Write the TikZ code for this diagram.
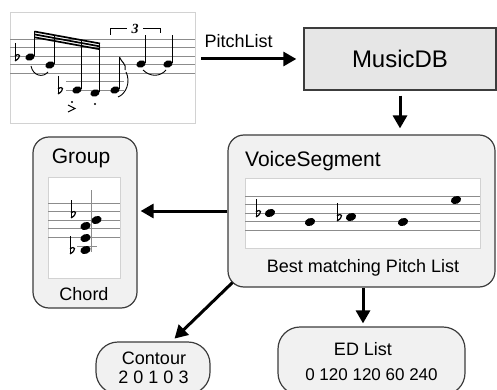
\documentclass[tikz,border=0pt]{standalone}
\usepackage{fontspec}
\setmainfont{Liberation Sans}
\newfontfamily\musicfont{Liberation Serif}
\usetikzlibrary{positioning, arrows.meta}
\definecolor{boxfill}{HTML}{F1F1F1}
\definecolor{dbfill}{HTML}{E6E6E6}
\definecolor{edgegray}{HTML}{3C3C3C}
\definecolor{stafflinegray}{HTML}{8C8C8C}
\definecolor{framegray}{HTML}{D2D2D2}
\tikzset{dbbox/.style={draw=edgegray, line width=1.3pt, fill=dbfill, minimum width=192pt, minimum height=62pt, font=\fontsize{24}{28}\selectfont},
  roundbox/.style={draw=edgegray, line width=1.2pt, fill=boxfill, rounded corners=16pt, inner sep=0pt},
  scorebox/.style={draw=framegray, line width=0.8pt, fill=white, inner sep=0pt},
  flow/.style={-{Triangle[width=14pt,length=13pt]}, line width=3pt},
  txt/.style={font=\fontsize{18}{21}\selectfont, inner sep=0pt, anchor=base},
  staffline/.style={draw=stafflinegray, line width=0.7pt},
  stem/.style={line width=0.8pt}}
\newcommand{\notehead}[3][1]{\fill[rotate around={20:(#2,#3)}] (#2,#3) ellipse [x radius=#1*5.3pt, y radius=#1*3.9pt];}
\newcommand{\flatsign}[2]{\draw[line width=0.7pt] (#1,#2-14) -- (#1,#2+4);
  \draw[line width=1.2pt] (#1,#2+4) .. controls (#1+7,#2) and (#1+5,#2-5) .. (#1,#2-1);}

\begin{document}
\begin{tikzpicture}[x=1pt, y=-1pt]
  \useasboundingbox (0,0) rectangle (497,390);
  \clip (0,0) rectangle (497,390);

  % boxes
  \node[scorebox, minimum width=185pt, minimum height=111pt] (score) at (102.5,67.5) {};
  \node[dbbox] (musicdb) at (400,59) {MusicDB};
  \node[roundbox, minimum width=267pt, minimum height=152pt] (vseg) at (361.5,211) {};
  \node[roundbox, minimum width=104pt, minimum height=171pt] (group) at (85,222.5) {};
  \node[roundbox, rounded corners=22pt, minimum width=114pt, minimum height=52pt] (contour) at (153,368) {};
  \node[roundbox, rounded corners=22pt, minimum width=187pt, minimum height=68pt] (edlist) at (371.5,361) {};
  \node[scorebox, minimum width=235pt, minimum height=70pt] (vstaff) at (362.5,213) {};
  \node[scorebox, minimum width=72pt, minimum height=101pt] (gstaff) at (84,227.5) {};

  % texts
  \node[txt, font=\fontsize{21}{25}\selectfont, anchor=base west] (vsegtitle) at (245,166) {VoiceSegment};
  \node[txt] (vseglabel) at (363,272) {Best matching Pitch List};
  \node[txt, font=\fontsize{21}{25}\selectfont] (grouptitle) at (81,163) {Group};
  \node[txt] (grouplabel) at (84,300) {Chord};
  \node[txt] (contourtitle) at (154,364) {Contour};
  \node[txt] (contourvals) at (153.5,383) {2 0 1 0 3};
  \node[txt] (edtitle) at (363,355) {ED List};
  \node[txt, font=\fontsize{17}{20}\selectfont] (edvals) at (371.5,380) {0 120 120 60 240};

  % connectors
  \draw[flow, shorten <=6pt, shorten >=7pt] (score.east |- musicdb.west) -- node[pos=0.4, above=10pt, inner sep=0pt, font=\fontsize{18}{21}\selectfont] (pitchlabel) {PitchList} (musicdb.west);
  \draw[flow, shorten <=5pt, shorten >=6pt] (musicdb.south) -- (vseg.north -| musicdb.south);
  \draw[flow, shorten >=3pt] (vseg.west) -- (group.east |- vseg.west);
  \draw[flow, shorten >=4pt] ([shift={(5,-5)}]vseg.south west) -- (contour.55);
  \draw[flow, shorten >=3pt] (vseg.south -| edtitle) -- (edlist.north -| edtitle);

  % score excerpt
  \foreach \y in {39,47.5,56,64.5,73}
    \draw[staffline] (10,\y) -- (195,\y);
  \foreach \y in {81.5,90}
    \draw[staffline] (66,\y) -- (124,\y);
  \notehead[0.9]{30}{57} \notehead[0.9]{50}{65} \notehead[0.9]{77}{90} \notehead[0.9]{95}{93}
  \notehead[0.9]{115}{90} \notehead[0.9]{141}{64} \notehead[0.9]{168}{64}
  \flatsign{15}{57} \flatsign{58}{90}
  \draw[stem] (34.5,56) -- (34.5,31);
  \draw[stem] (54.5,64) -- (54.5,35);
  \draw[stem] (81.5,89) -- (81.5,40);
  \draw[stem] (99.5,92) -- (99.5,43);
  \draw[stem] (119.5,89) -- (119.5,57);
  \draw[stem] (145.5,63) -- (145.5,35);
  \draw[stem] (172.5,63) -- (172.5,35);
  \foreach \d in {0,2.9,5.8}
    \draw[line width=1.7pt] (34.5,31.5+\d) -- (100,43.5+\d);
  \draw[line width=1pt] (119.5,57) .. controls (121,62) and (127,64) .. (125,70);
  \draw[line width=0.8pt] (110,35) -- (110,28) -- (127,28) (143,28) -- (160,28) -- (160,33);
  \node[inner sep=0pt, font=\musicfont\fontsize{14}{14}\selectfont\bfseries\itshape] (triplet) at (135,29) {3};
  \draw[line width=0.9pt] (31,66) .. controls (33,76) and (43,78) .. (48,72);
  \draw[line width=0.9pt] (118,97) .. controls (126,94) and (131,82) .. (126,72);
  \draw[line width=0.9pt] (143,70) .. controls (150,77) and (160,77) .. (166,70);
  \fill (72,102) circle (1.1pt);
  \fill (95,104) circle (1.1pt);
  \draw[line width=0.9pt] (68,105) -- (75,108.5) -- (68,112);

  % voice segment staff
  \foreach \y in {196,204.5,213,221.5,230}
    \draw[staffline] (245,\y) -- (480,\y);
  \flatsign{256}{213} \flatsign{337}{217}
  \notehead{270}{213} \notehead{310}{222} \notehead{351}{217}
  \notehead{403}{222} \notehead{456}{200}

  % chord staff
  \foreach \y in {203,211.5,220,228.5,237}
    \draw[staffline] (48,\y) -- (120,\y);
  \draw[staffline] (77,246) -- (97,246);
  \draw[stem, draw=stafflinegray] (91,190) -- (91,252);
  \flatsign{71}{214} \flatsign{70}{250}
  \notehead{96.5}{220} \notehead{85.5}{226} \notehead{85.5}{238} \notehead{85.5}{250}
\end{tikzpicture}
\end{document}
